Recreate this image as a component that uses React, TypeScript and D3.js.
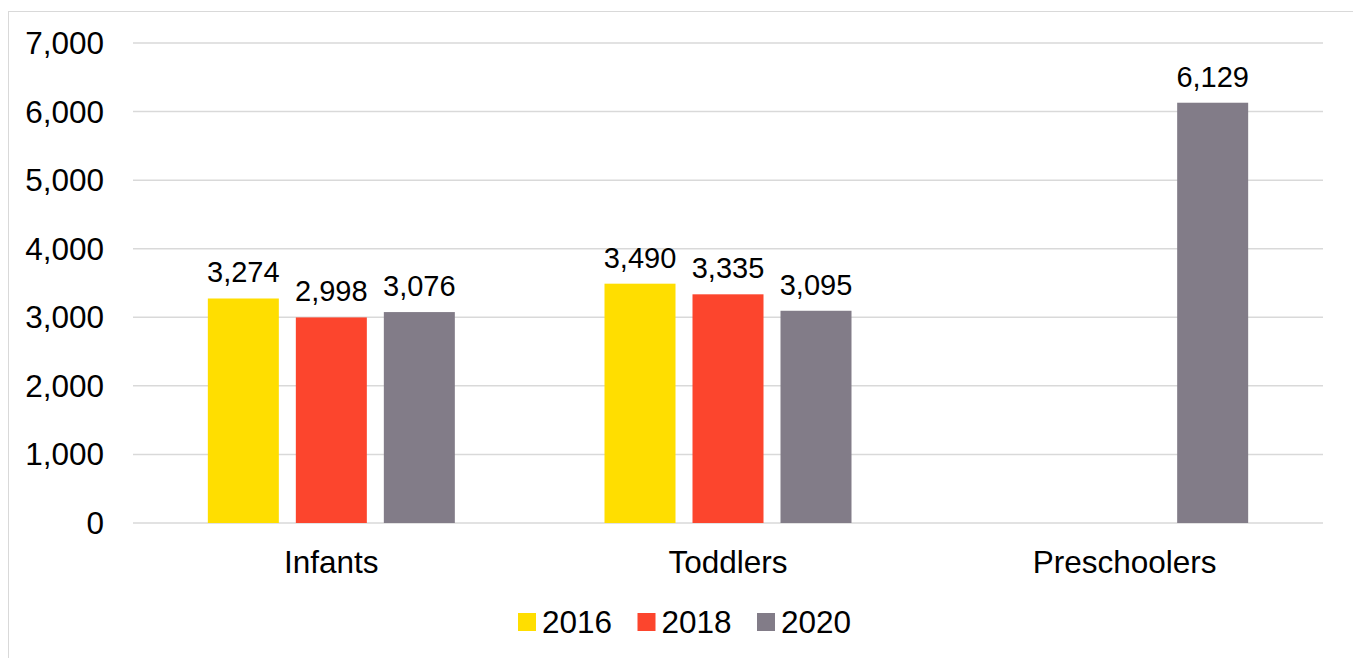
import { scaleBand, scaleLinear, format } from "d3";
import { useEffect } from "react";

const categories = ["Infants", "Toddlers", "Preschoolers"];
const years = ["2016", "2018", "2020"];
const values2016 = [3274, 3490, null];
const values2018 = [2998, 3335, null];
const values2020 = [3076, 3095, 6129];
const yTicks = [0, 1000, 2000, 3000, 4000, 5000, 6000, 7000];
const colors = ["#FFDE00", "#FC452D", "#827C88"];

const W = 1353;
const H = 658;
const left = 133;
const right = 1323;
const top = 43;
const bottom = 523;
const groupSpan = 247;

export default function App() {
  useEffect(() => {
    document.body.style.margin = "0";
  }, []);

  const x = scaleBand().domain(categories).range([left, right]);
  const y = scaleLinear().domain([0, 7000]).range([bottom, top]);
  const sub = scaleBand().domain(years).range([0, groupSpan]).paddingInner(17 / 88).paddingOuter(0);
  const groupOffset = (x.bandwidth() - groupSpan) / 2;
  const fmt = format(",");
  const series = [values2016, values2018, values2020];
  const font = "'Liberation Sans', Arial, sans-serif";
  const fs = 31.5;

  return (
    <svg width={W} height={H} style={{ display: "block", fontFamily: font }}>
      <rect x={8.5} y={11.5} width={W} height={H} fill="#fff" stroke="#d9d9d9" />
      {yTicks.map((t) => (
        <g key={t}>
          <line x1={left} x2={right} y1={y(t)} y2={y(t)} stroke="#d9d9d9" strokeWidth={1.5} />
          <text x={104} y={y(t)} dy="0.35em" textAnchor="end" fontSize={fs} fill="#000">
            {fmt(t)}
          </text>
        </g>
      ))}
      {series.map((vals, si) =>
        vals.map((v, ci) => {
          if (v == null) return null;
          const bx = (x(categories[ci]) ?? 0) + groupOffset + (sub(years[si]) ?? 0);
          return (
            <g key={`${si}-${ci}`}>
              <rect x={bx} y={y(v)} width={sub.bandwidth()} height={y(0) - y(v)} fill={colors[si]} />
              <text x={bx + sub.bandwidth() / 2} y={y(v) - 16} textAnchor="middle" fontSize={29} fill="#000">
                {fmt(v)}
              </text>
            </g>
          );
        })
      )}
      {categories.map((c) => (
        <text key={c} x={(x(c) ?? 0) + x.bandwidth() / 2} y={573} textAnchor="middle" fontSize={fs} fill="#000">
          {c}
        </text>
      ))}
      {years.map((yr, i) => {
        const lx = 518 + i * 119.5;
        return (
          <g key={yr}>
            <rect x={lx} y={613} width={18} height={18} fill={colors[i]} />
            <text x={lx + 24} y={633} fontSize={fs} fill="#000">
              {yr}
            </text>
          </g>
        );
      })}
    </svg>
  );
}
